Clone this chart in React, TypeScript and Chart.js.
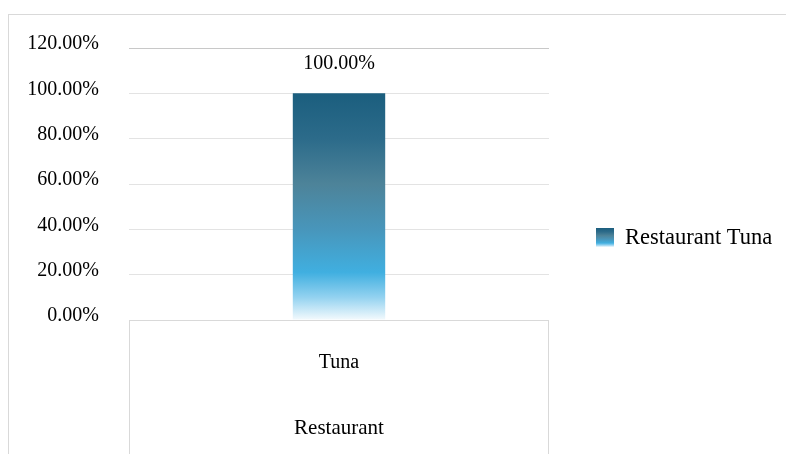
import React, { useEffect, useRef } from "react";
import { Chart, registerables } from "chart.js";

Chart.register(...registerables);

const categories = ["Tuna"];
const groups = ["Restaurant"];
const seriesName = "Restaurant Tuna";
const seriesValues = [1.0];
const yTicks = [0, 0.2, 0.4, 0.6, 0.8, 1.0, 1.2];

const FONT = "'Liberation Serif', 'Times New Roman', serif";

function makeGradient(ctx: CanvasRenderingContext2D, yBottom: number, yTop: number) {
  const g = ctx.createLinearGradient(0, yBottom, 0, yTop);
  g.addColorStop(0, "#f4fafd");
  g.addColorStop(0.1, "#93d2f0");
  g.addColorStop(0.21, "#40afe0");
  g.addColorStop(0.4, "#4896bb");
  g.addColorStop(0.6, "#4d8399");
  g.addColorStop(0.8, "#2c6b8a");
  g.addColorStop(1, "#1b5e7e");
  return g;
}

const decorPlugin = {
  id: "decor",
  beforeDraw(chart: any) {
    const ctx = chart.ctx;
    ctx.save();
    ctx.strokeStyle = "#d9d9d9";
    ctx.lineWidth = 1;
    ctx.strokeRect(8.5, 14.5, 900, 600);
    ctx.restore();
  },
  afterDatasetsDraw(chart: any) {
    const ctx = chart.ctx;
    const area = chart.chartArea;
    const xs = chart.scales.x;
    const ys = chart.scales.y;
    ctx.save();
    ctx.strokeStyle = "#d9d9d9";
    ctx.lineWidth = 1;
    const y0 = Math.round(ys.getPixelForValue(0)) + 0.5;
    ctx.beginPath();
    ctx.moveTo(area.left, y0);
    ctx.lineTo(area.right, y0);
    ctx.moveTo(Math.round(area.left) + 0.5, y0);
    ctx.lineTo(Math.round(area.left) + 0.5, chart.height);
    ctx.moveTo(Math.round(area.right) - 0.5, y0);
    ctx.lineTo(Math.round(area.right) - 0.5, chart.height);
    ctx.stroke();

    ctx.fillStyle = "#000";
    ctx.font = `20px ${FONT}`;
    ctx.textAlign = "center";
    ctx.textBaseline = "middle";
    categories.forEach((c, i) => {
      const x = xs.getPixelForValue(i);
      ctx.fillText(c, x, y0 + 42);
    });
    ctx.font = `21px ${FONT}`;
    ctx.fillText(groups[0], (area.left + area.right) / 2, y0 + 108);

    ctx.font = `20px ${FONT}`;
    const meta = chart.getDatasetMeta(0);
    meta.data.forEach((bar: any, i: number) => {
      const v = chart.data.datasets[0].data[i] as number;
      ctx.fillText((v * 100).toFixed(2) + "%", bar.x, bar.y - 30);
    });

    const lx = 596;
    const ly = 228;
    ctx.fillStyle = makeGradient(ctx, ly + 19, ly);
    ctx.fillRect(lx, ly, 18, 19);
    ctx.fillStyle = "#000";
    ctx.font = `22.5px ${FONT}`;
    ctx.textAlign = "left";
    ctx.fillText(chart.data.datasets[0].label, lx + 29, ly + 10);
    ctx.restore();
  },
};

export default function App() {
  const ref = useRef<HTMLCanvasElement | null>(null);
  useEffect(() => {
    if (!ref.current) return;
    const chart = new Chart(ref.current, {
      type: "bar",
      data: {
        labels: categories,
        datasets: [
          {
            label: seriesName,
            data: seriesValues,
            backgroundColor: (c: any) => {
              const ch = c.chart;
              const ys = ch.scales.y;
              if (!ch.chartArea || !ys) return "#1b5e7e";
              return makeGradient(ch.ctx, ys.getPixelForValue(0), ys.getPixelForValue(1));
            },
            borderWidth: 0,
            barPercentage: 0.22,
            categoryPercentage: 1,
          },
        ],
      },
      options: {
        animation: false,
        responsive: false,
        maintainAspectRatio: false,
        layout: { padding: { left: 8, top: 48, right: 237, bottom: 134 } },
        plugins: { legend: { display: false }, tooltip: { enabled: false } },
        scales: {
          x: { display: false },
          y: {
            min: 0,
            max: 1.2,
            afterFit: (s: any) => {
              s.width = 121;
            },
            afterBuildTicks: (s: any) => {
              s.ticks = yTicks.map((v) => ({ value: v }));
            },
            border: { display: false },
            grid: {
              drawTicks: false,
              color: (c: any) => (c.tick && c.tick.value > 1.1 ? "#c8c8c8" : "#e3e3e3"),
            },
            ticks: {
              padding: 30,
              labelOffset: -4,
              color: "#000",
              font: { family: FONT, size: 20 },
              callback: (v: any) => (Number(v) * 100).toFixed(2) + "%",
            },
          },
        },
      },
      plugins: [decorPlugin],
    } as any);
    return () => chart.destroy();
  }, []);
  return (
    <div style={{ position: "fixed", left: 0, top: 0, width: 786, height: 454, background: "#fff" }}>
      <canvas ref={ref} width={786} height={454} style={{ display: "block" }} />
    </div>
  );
}
